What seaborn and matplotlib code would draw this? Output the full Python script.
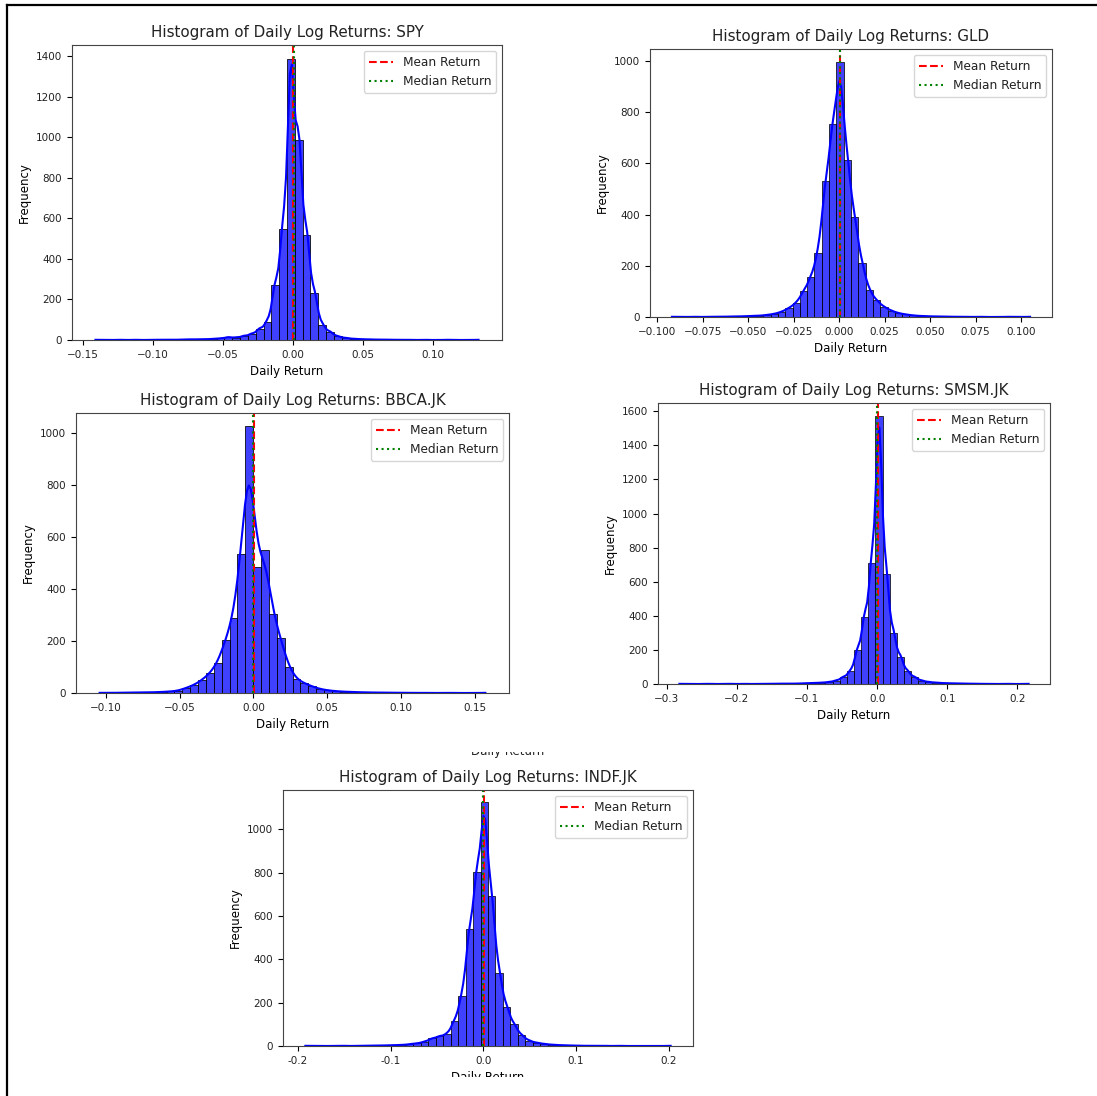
import numpy as np
import matplotlib
matplotlib.use("Agg")
import matplotlib.pyplot as plt
from matplotlib.lines import Line2D
from matplotlib.patches import Rectangle
from matplotlib.ticker import MultipleLocator, FormatStrFormatter
import seaborn as sns

#=============================================================================
# Data: 50-bin counts
#=============================================================================
tickers = ["SPY", "GLD", "BBCA.JK", "SMSM.JK", "INDF.JK"]

# data range (min, max) of the daily log returns
spy_range = (-0.1436, 0.1356)
gld_range = (-0.0940, 0.1070)
bbca_range = (-0.1070, 0.1600)
smsm_range = (-0.2870, 0.2210)
indf_range = (-0.1960, 0.2060)

spy_counts = [1, 0, 0, 1, 0, 1, 0, 1, 1, 2, 1, 2, 3, 3, 4, 5, 8, 14, 12, 20,
              30, 55, 90, 270, 545, 1385, 985, 520, 230, 75, 40, 18, 10, 6, 4,
              3, 2, 2, 1, 1, 1, 0, 1, 0, 0, 1, 0, 0, 0, 1]
gld_counts = [1, 0, 0, 1, 0, 1, 1, 1, 2, 2, 3, 4, 5, 8, 12, 20, 35, 55, 100, 155,
              250, 530, 755, 997, 615, 390, 210, 105, 65, 40, 25, 15, 10, 6, 4,
              3, 2, 2, 1, 1, 1, 0, 1, 0, 0, 0, 1, 0, 0, 1]
bbca_counts = [1, 0, 1, 1, 1, 2, 2, 3, 4, 6, 8, 20, 30, 50, 75, 115, 205, 290, 535, 1025,
               485, 550, 305, 210, 100, 52, 38, 25, 15, 10, 7, 5, 4, 3, 2,
               2, 1, 1, 1, 1, 0, 1, 0, 0, 1, 0, 0, 0, 0, 1]
smsm_counts = [1, 0, 0, 0, 1, 0, 0, 1, 0, 1, 0, 1, 1, 1, 2, 2, 2, 3, 4, 6,
               8, 12, 20, 40, 75, 200, 395, 710, 1570, 645, 300, 160, 75, 40, 20,
               12, 8, 5, 4, 3, 2, 2, 1, 1, 1, 0, 1, 0, 0, 1]
indf_counts = [1, 0, 0, 0, 1, 1, 0, 1, 1, 2, 2, 3, 4, 5, 8, 12, 20, 35, 45, 55,
               115, 230, 540, 805, 1125, 690, 335, 180, 100, 50, 25, 15, 10, 6, 4,
               3, 2, 1, 1, 1, 1, 0, 1, 0, 0, 0, 0, 0, 0, 1]

means = [0.0004, 0.0003, 0.0006, 0.0005, 0.0002]
medians = [0.0007, 0.0005, 0.0000, 0.0000, 0.0000]

ranges = [spy_range, gld_range, bbca_range, smsm_range, indf_range]
counts = [spy_counts, gld_counts, bbca_counts, smsm_counts, indf_counts]

#=============================================================================
# Layout (pixel boxes of the axes in the screenshot collage)
#=============================================================================
W, H = 1097, 1096
boxes = [(72, 45, 502, 340),
         (650, 49, 1052, 317),
         (76, 413, 509, 693),
         (658, 403, 1050, 684),
         (283, 790, 693, 1046)]
# kde smoothing per panel (BBCA curve is visibly smoother in the original)
bw_adj = [1.0, 1.0, 1.2, 1.0, 1.0]


def px_rect(x0, y0, x1, y1):
    return [x0 / W, 1 - y1 / H, (x1 - x0) / W, (y1 - y0) / H]


plt.rcParams["font.family"] = ["DejaVu Sans"]
plt.rcParams["xtick.labelsize"] = 7.5
plt.rcParams["ytick.labelsize"] = 7.5
plt.rcParams["axes.labelsize"] = 8.5
plt.rcParams["axes.titlesize"] = 10.9
plt.rcParams["legend.fontsize"] = 8.7
plt.rcParams["axes.edgecolor"] = "#444444"
plt.rcParams["text.color"] = "#222222"
plt.rcParams["xtick.labelcolor"] = "#222222"
plt.rcParams["ytick.labelcolor"] = "#222222"

fig = plt.figure(figsize=(W / 100, H / 100), dpi=100)

for tick, (lo, hi), cnt, mu, med, box, bw in zip(tickers, ranges, counts, means,
                                                 medians, boxes, bw_adj):
    ax = fig.add_axes(px_rect(*box))
    nb = len(cnt)
    width = (hi - lo) / nb
    centers = lo + width * (np.arange(nb) + 0.5)
    # one value per observed day, placed at its bin centre
    returns = np.repeat(centers, cnt)

    sns.histplot(x=returns, bins=nb, binrange=(lo, hi), kde=True,
                 kde_kws={"bw_adjust": bw},
                 color="blue", alpha=0.75, ax=ax)
    ax.axvline(mu, color="red", linestyle="--", label="Mean Return")
    ax.axvline(med, color="green", linestyle=":", label="Median Return")

    ax.set_title(f"Histogram of Daily Log Returns: {tick}")
    ax.set_xlabel("Daily Return")
    ax.set_ylabel("Frequency")
    ax.legend(loc="upper right")

    if tick == "INDF.JK":
        ax.xaxis.set_major_locator(MultipleLocator(0.1))
        ax.xaxis.set_major_formatter(FormatStrFormatter("%.1f"))

# screenshot frame lines (top and left)
fig.add_artist(Line2D([7 / W, 1], [1 - 5 / H, 1 - 5 / H], color="black", lw=1.6))
fig.add_artist(Line2D([7 / W, 7 / W], [0, 1 - 5 / H], color="black", lw=1.6))

# leftover label cut by the screenshot
fig.text(508 / W, 1 - 755 / H, "Daily Return", ha="center", va="baseline",
         fontsize=8.5, zorder=3)
fig.add_artist(Rectangle((440 / W, 1 - 752 / H), 140 / W, 20 / H,
                         transform=fig.transFigure, facecolor="white",
                         edgecolor="none", zorder=4))
# bottom of the last screenshot is cropped
fig.add_artist(Rectangle((12 / W, 0), 1 - 12 / W, 1 - 1077 / H,
                         transform=fig.transFigure, facecolor="white",
                         edgecolor="none", zorder=4))

fig.savefig("out.png", dpi=100)
